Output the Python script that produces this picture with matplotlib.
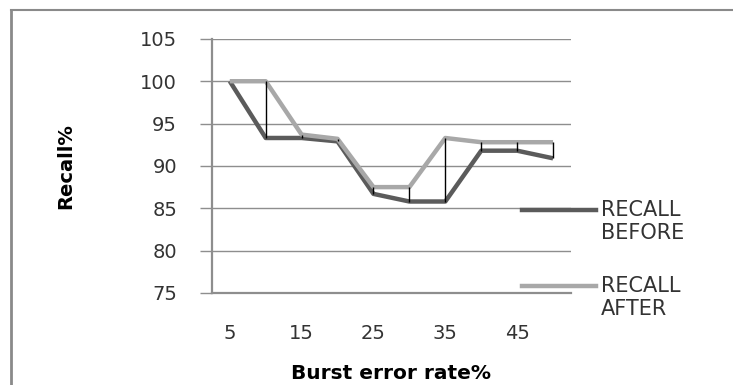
import matplotlib.pyplot as plt
from matplotlib.lines import Line2D

rates = [5, 10, 15, 20, 25, 30, 35, 40, 45, 50]
recall_before = [100, 93.3, 93.3, 92.9, 86.7, 85.8, 85.8, 91.8, 91.8, 90.9]
recall_after = [100, 100, 93.7, 93.2, 87.5, 87.5, 93.3, 92.8, 92.8, 92.8]
y_ticks = [75, 80, 85, 90, 95, 100, 105]

dark = "#5b5b5b"
light = "#a8a8a8"
grid_col = "#8e8e8e"
txt = "#333333"

plt.rcParams['font.family'] = ['DejaVu Sans']

fig = plt.figure(figsize=(7.33, 3.85), dpi=100)
ax = fig.add_axes([0.289, 0.239, 0.49, 0.66])

pos = list(range(len(rates)))

# high-low lines between the two series
ax.vlines(pos, recall_before, recall_after, color="black", linewidth=1, zorder=4)
ax.plot(pos, recall_before, color=dark, linewidth=3.2, zorder=3, solid_capstyle="butt")
ax.plot(pos, recall_after, color=light, linewidth=3.2, zorder=3, solid_capstyle="butt")

ax.set_xlim(-0.5, len(rates) - 0.5)
ax.set_ylim(75, 105)
ax.set_yticks(y_ticks)
ax.set_yticklabels([str(v) for v in y_ticks], fontsize=14, color=txt)
ax.set_xticks(pos[::2])
ax.set_xticklabels([str(r) for r in rates[::2]], fontsize=14, color=txt)
ax.tick_params(axis="y", length=9, width=1, color=grid_col, pad=16)
ax.tick_params(axis="x", length=0, pad=22)

ax.grid(axis="y", color=grid_col, linewidth=1)
ax.set_axisbelow(True)
for side in ["top", "right"]:
    ax.spines[side].set_visible(False)
for side in ["left", "bottom"]:
    ax.spines[side].set_color(grid_col)
    ax.spines[side].set_linewidth(1.6)

ax.set_xlabel("Burst error rate%", fontsize=14.5, fontweight="bold", color="black")
ax.xaxis.set_label_coords(0.5, -0.28)
ax.set_ylabel("Recall%", fontsize=14, fontweight="bold", color="black")
ax.yaxis.set_label_coords(-0.38, 0.5)

# legend drawn on the right side
W, H = 733, 385
def fx(px):
    return px / W
def fy(py):
    return 1 - py / H

fig.add_artist(Line2D([fx(522), fx(596)], [fy(210), fy(210)], color=dark, linewidth=3.2))
fig.add_artist(Line2D([fx(522), fx(596)], [fy(286), fy(286)], color=light, linewidth=3.2))
fig.text(fx(601), fy(200), "RECALL\nBEFORE", fontsize=15, color=txt, va="top",
         linespacing=1.2)
fig.text(fx(601), fy(276), "RECALL\nAFTER", fontsize=15, color=txt, va="top",
         linespacing=1.2)

# chart frame
fig.add_artist(Line2D([fx(11), 1], [fy(10), fy(10)], color="#8a8a8a", linewidth=1.5))
fig.add_artist(Line2D([fx(11), fx(11)], [fy(10), 0], color="#8a8a8a", linewidth=2))

fig.savefig("out.png", dpi=100)
